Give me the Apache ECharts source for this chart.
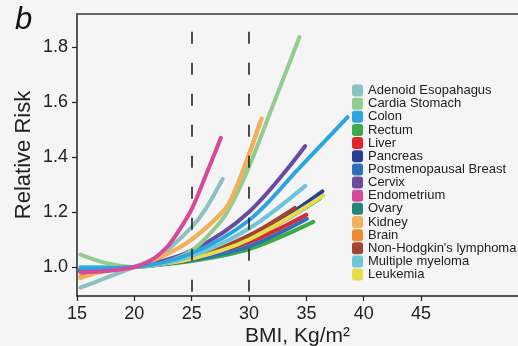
<!DOCTYPE html>
<html>
<head>
<meta charset="utf-8">
<script src="https://cdn.jsdelivr.net/npm/echarts@6/dist/echarts.min.js"></script>
<style>
html,body{margin:0;padding:0;background:#f5f5f5;}
#chart{width:518px;height:346px;}
</style>
</head>
<body>
<div id="chart"></div>
<script>
// Data: [BMI, relative risk] pairs per cancer site
const names = ["Adenoid Esopahagus","Cardia Stomach","Colon","Rectum","Liver","Pancreas","Postmenopausal Breast","Cervix","Endometrium","Ovary","Kidney","Brain","Non-Hodgkin's lymphoma","Multiple myeloma","Leukemia"];
const colors = ["#8cc0c2","#92cc8f","#2aa5df","#3bab4a","#e3262b","#273f95","#2f70b9","#6b4aa1","#d8499b","#24857a","#f3b15c","#ef8b2f","#a4432f","#6ec6d8","#e7dd4b"];

const adenoid = [[15.3,0.925],[17.5,0.96],[20,1.0],[22.5,1.05],[25,1.145],[26.15,1.207],[27.7,1.32]];
const cardia = [[15.3,1.045],[17.5,1.015],[20,1.0],[22.5,1.015],[25,1.06],[27,1.14],[28.1,1.2],[29.8,1.345],[32.26,1.607],[34.4,1.836]];
const colon = [[15.3,0.995],[20,1.0],[25,1.05],[30,1.17],[34.27,1.355],[38.6,1.545]];
const rectum = [[15.3,0.99],[20,1.0],[25,1.022],[30,1.065],[35.6,1.164]];
const liver = [[15.3,0.99],[20,1.0],[25,1.03],[30,1.09],[35,1.19]];
const pancreas = [[15.3,0.985],[20,1.0],[25,1.03],[30,1.1],[36.4,1.275]];
const breast = [[15.3,0.99],[20,1.0],[25,1.025],[30,1.075],[35.05,1.175]];
const cervix = [[15.3,0.985],[20,1.0],[25,1.06],[30,1.2],[34.9,1.44]];
const endometrium = [[15.3,0.98],[17.5,0.985],[20,1.0],[21.5,1.025],[23,1.08],[24,1.14],[25,1.21],[26.2,1.33],[27.55,1.47]];
const ovary = [[15.3,0.99],[20,1.0],[25,1.03],[30,1.1],[36.2,1.25]];
const kidney = [[15.3,0.96],[17.5,0.985],[20,1.0],[22.5,1.04],[25,1.1],[27.9,1.21],[28.8,1.28],[30,1.41],[31.1,1.54]];
const brain = [[15.3,0.965],[17.5,0.99],[20,1.0],[22.5,1.04],[25,1.1],[27.9,1.21],[28.8,1.28],[30,1.41],[31,1.53]];
const nhl = [[15.3,0.99],[20,1.0],[25,1.03],[30,1.115],[34,1.215]];
const myeloma = [[15.3,1.0],[20,1.0],[25,1.04],[30,1.14],[34.9,1.295]];
const leukemia = [[15.3,0.99],[20,1.0],[25,1.03],[30,1.1],[36.5,1.26]];

const seriesData = {
  "Adenoid Esopahagus": adenoid, "Cardia Stomach": cardia, "Colon": colon, "Rectum": rectum,
  "Liver": liver, "Pancreas": pancreas, "Postmenopausal Breast": breast, "Cervix": cervix,
  "Endometrium": endometrium, "Ovary": ovary, "Kidney": kidney, "Brain": brain,
  "Non-Hodgkin's lymphoma": nhl, "Multiple myeloma": myeloma, "Leukemia": leukemia
};
const drawOrder = ["Liver","Brain","Rectum","Postmenopausal Breast","Pancreas","Ovary","Non-Hodgkin's lymphoma","Leukemia","Multiple myeloma","Cervix","Cardia Stomach","Adenoid Esopahagus","Kidney","Colon","Endometrium"];

const xTicks = [15,20,25,30,35,40,45];
const yTicks = [1.0,1.2,1.4,1.6,1.8];
const refLines = [25,30];

const font = "'Liberation Sans', Arial, sans-serif";
const chart = echarts.init(document.getElementById('chart'), null, {renderer:'canvas'});

const series = drawOrder.map(n => ({
  name: n, type: 'line', data: seriesData[n], smooth: 0.35, showSymbol: false, symbol: 'none',
  lineStyle: {width: 4, color: colors[names.indexOf(n)], cap: 'round'},
  itemStyle: {color: colors[names.indexOf(n)]}, silent: true
}));
series.push({
  name: 'ref', type: 'line', data: [], silent: true,
  markLine: {
    symbol: 'none', silent: true, label: {show: false},
    lineStyle: {color: '#222', type: [12, 19], width: 1.6},
    data: refLines.map(v => [{coord: [v, 1.855]}, {coord: [v, 0.8945]}])
  }
});

chart.setOption({
  backgroundColor: '#f5f5f5',
  animation: false,
  grid: {left: 77, right: 0, top: 14, bottom: 50, containLabel: false, outerBoundsMode: 'none'},
  xAxis: [{
    type: 'value', min: 15, max: 53.45, position: 'bottom',
    name: 'BMI, Kg/m²', nameLocation: 'middle', nameGap: 30, nameMoveOverlap: false,
    nameTextStyle: {fontSize: 21, color: '#222', fontFamily: font},
    axisLine: {show: true, lineStyle: {color: '#222', width: 1.5}},
    axisTick: {show: true, length: 5, lineStyle: {color: '#222', width: 1.2}, customValues: xTicks},
    axisLabel: {fontSize: 18, color: '#222', fontFamily: font, margin: 9, customValues: xTicks},
    splitLine: {show: false}
  }, {
    type: 'value', min: 15, max: 53.45, position: 'top',
    axisLine: {show: true, lineStyle: {color: '#333', width: 1.5}},
    axisTick: {show: false}, axisLabel: {show: false}, splitLine: {show: false}
  }],
  yAxis: {
    type: 'value', min: 0.8945, max: 1.92,
    name: 'Relative Risk', nameLocation: 'middle', nameGap: 42, nameRotate: 90, nameMoveOverlap: false,
    nameTextStyle: {fontSize: 22, color: '#222', fontFamily: font},
    axisLine: {show: true, lineStyle: {color: '#222', width: 1.5}},
    axisTick: {show: true, length: 5, lineStyle: {color: '#222', width: 1.2}, customValues: yTicks},
    axisLabel: {fontSize: 18, color: '#222', fontFamily: font, margin: 9, customValues: yTicks,
      formatter: v => v.toFixed(1)},
    splitLine: {show: false}
  },
  legend: {
    data: names, orient: 'vertical', left: 352, top: 84, padding: 0,
    icon: 'roundRect', itemWidth: 11, itemHeight: 12, itemGap: 0.15,
    textStyle: {fontSize: 13, color: '#222', fontFamily: font, lineHeight: 13},
    selectedMode: false
  },
  graphic: [{
    type: 'text', left: 15, top: 5,
    style: {text: 'b', font: 'italic 31px ' + font, fill: '#111'}
  }],
  series: series
});
</script>
</body>
</html>
